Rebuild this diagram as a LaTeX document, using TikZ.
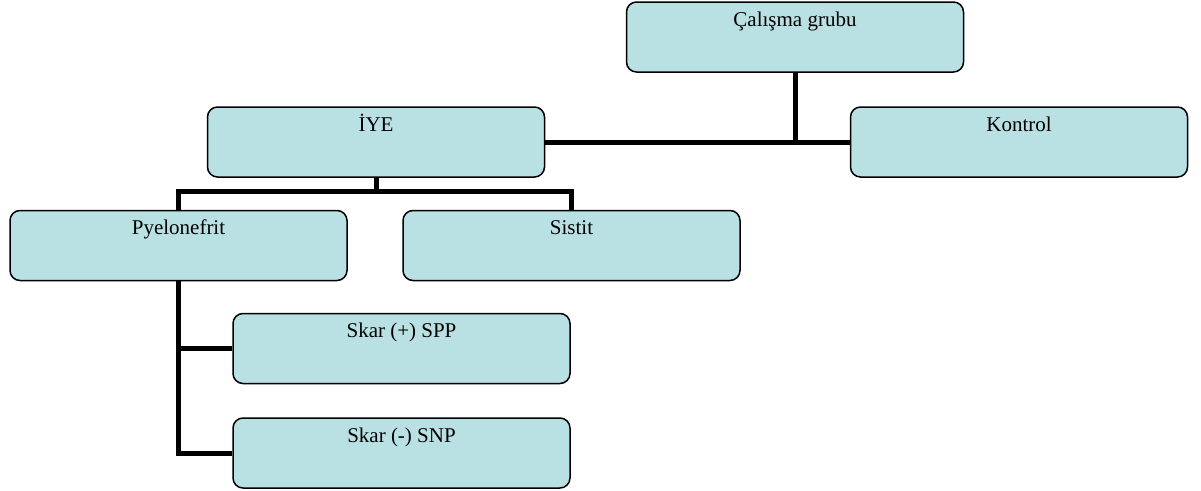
\documentclass[tikz,border=0pt]{standalone}
\usepackage{fontspec}
\setmainfont{Liberation Serif}
\usepackage{tikz}
\definecolor{kutu}{RGB}{185,224,227}

\begin{document}
\begin{tikzpicture}[x=1pt, y=-1pt,
    grupkutu/.style = {draw, line width=1.5pt, fill=kutu, rounded corners=10pt,
        minimum width=337pt, inner sep=0pt, text height=24pt, text depth=46pt,
        font=\fontsize{21}{25}\selectfont},
    bag/.style = {line width=5pt}]
    \useasboundingbox (0,0) rectangle (1201,490);
    \node[grupkutu] (grup) at (795,37) {Çalışma grubu};
    \node[grupkutu] (kontrol) at (1019,142) {Kontrol};
    \node[grupkutu] (iye) at (376,142) {İYE};
    \node[grupkutu] (pyel) at (178.5,245.5) {Pyelonefrit};
    \node[grupkutu] (sistit) at (571.5,245.5) {Sistit};
    \node[grupkutu] (skpp) at (401.5,348.5) {Skar (+) SPP};
    \node[grupkutu] (sknp) at (401.5,453) {Skar (-) SNP};
    \draw[bag] (grup.south) |- (kontrol.west);
    \draw[bag] (iye.east) -- (kontrol.west);
    \draw[bag] (iye.south) -- ++(0,16);
    \draw[bag] (pyel.north) -- ++(0,-18) -| (sistit.north);
    \draw[bag] (pyel.south) |- (skpp.west);
    \draw[bag] (pyel.south) |- (sknp.west);
\end{tikzpicture}
\end{document}
